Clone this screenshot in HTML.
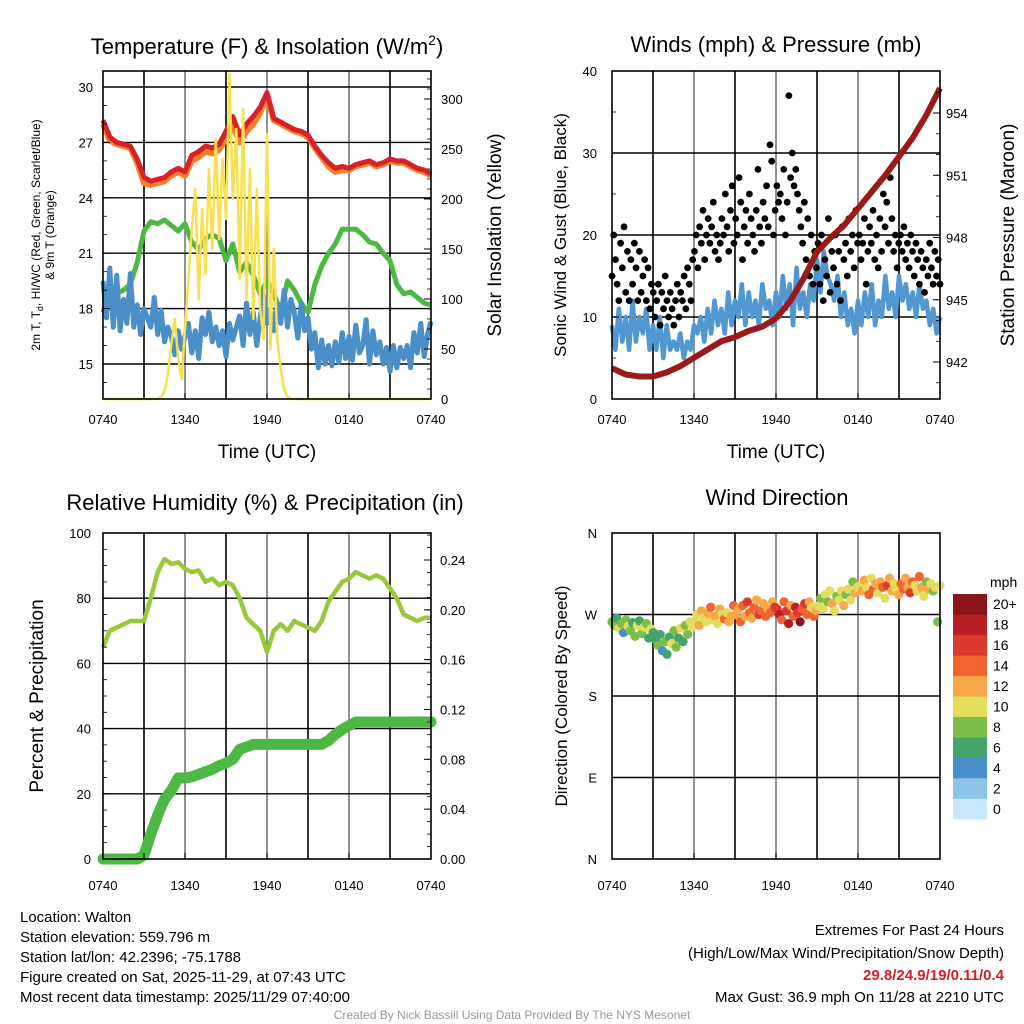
<!DOCTYPE html>
<html><head><meta charset="utf-8"><style>
html,body{margin:0;padding:0;background:#fff;}
svg{display:block;font-family:"Liberation Sans",Arial,sans-serif;}
</style></head><body>
<svg id="s" width="1024" height="1024" viewBox="0 0 1024 1024" xmlns="http://www.w3.org/2000/svg">
<g id="static" font-family="Liberation Sans, sans-serif">
<text x="267" y="54" font-size="22" text-anchor="middle">Temperature (F) &amp; Insolation (W/m<tspan font-size="14" dy="-9">2</tspan><tspan dy="9">)</tspan></text>
<text transform="translate(40,235) rotate(-90)" font-size="12" text-anchor="middle">2m T, T<tspan font-size="9" dy="3">d</tspan><tspan dy="-3">, HI/WC (Red, Green, Scarlet/Blue)</tspan></text>
<text transform="translate(54,235) rotate(-90)" font-size="12" text-anchor="middle">&amp; 9m T (Orange)</text>
<text transform="translate(501,235) rotate(-90)" font-size="19" text-anchor="middle">Solar Insolation (Yellow)</text>
<text x="267" y="458" font-size="19" text-anchor="middle">Time (UTC)</text>
<text x="776" y="52" font-size="22" text-anchor="middle">Winds (mph) &amp; Pressure (mb)</text>
<text transform="translate(566,235) rotate(-90)" font-size="17" text-anchor="middle">Sonic Wind &amp; Gust (Blue, Black)</text>
<text transform="translate(1014,235) rotate(-90)" font-size="19" text-anchor="middle">Station Pressure (Maroon)</text>
<text x="776" y="458" font-size="19" text-anchor="middle">Time (UTC)</text>
<text x="265" y="510" font-size="22" text-anchor="middle">Relative Humidity (%) &amp; Precipitation (in)</text>
<text transform="translate(43,696) rotate(-90)" font-size="19" text-anchor="middle">Percent &amp; Precipitation</text>
<text x="777" y="505" font-size="22" text-anchor="middle">Wind Direction</text>
<text transform="translate(567,696) rotate(-90)" font-size="17" text-anchor="middle">Direction (Colored By Speed)</text>
<text x="990" y="587" font-size="14">mph</text>
<g font-size="15">
<text x="20" y="922">Location: Walton</text>
<text x="20" y="942">Station elevation: 559.796 m</text>
<text x="20" y="962">Station lat/lon: 42.2396; -75.1788</text>
<text x="20" y="982">Figure created on Sat, 2025-11-29, at 07:43 UTC</text>
<text x="20" y="1002">Most recent data timestamp: 2025/11/29 07:40:00</text>
</g>
<g font-size="15" text-anchor="end">
<text x="1004" y="935">Extremes For Past 24 Hours</text>
<text x="1004" y="958">(High/Low/Max Wind/Precipitation/Snow Depth)</text>
<text x="1004" y="980" fill="#d0202a" font-weight="bold">29.8/24.9/19/0.11/0.4</text>
<text x="1004" y="1002">Max Gust: 36.9 mph On 11/28 at 2210 UTC</text>
</g>
<text x="512" y="1019" font-size="12" fill="#999" text-anchor="middle">Created By Nick Bassill Using Data Provided By The NYS Mesonet</text>
</g>
<g id="dyn"></g>
</svg>
<script>
// ---- Panel 1 data (half-hourly unless noted) ----
const tempRed=[28.2,27.3,27.0,26.9,26.8,26.1,25.1,24.9,25.0,25.1,25.4,25.6,25.4,26.3,26.5,26.8,26.7,26.9,27.6,28.4,27.4,28.0,28.4,28.9,29.7,28.3,28.1,27.9,27.7,27.6,27.4,26.8,26.3,25.9,25.6,25.7,25.6,25.8,25.9,26.0,25.8,25.9,26.1,26.0,26.0,25.8,25.6,25.5,25.3];
const tempOrange=[28.0,27.1,26.9,26.8,26.7,25.9,24.8,24.7,24.8,24.9,25.2,25.4,25.2,26.0,26.2,26.5,26.4,26.6,27.2,27.9,27.0,27.6,28.0,28.6,29.5,28.2,28.0,27.8,27.6,27.5,27.3,26.7,26.2,25.7,25.4,25.5,25.5,25.7,25.8,25.9,25.7,25.8,26.0,25.9,25.9,25.7,25.5,25.4,25.2];
const dewGreen=[17.8,19.0,18.8,19.0,19.3,20.5,22.2,22.7,22.6,22.8,22.5,22.2,22.6,21.6,21.2,21.8,22.0,21.8,20.6,21.5,20.0,20.5,19.8,18.8,19.5,18.8,17.8,19.5,19.0,18.3,17.8,19.3,20.3,21.0,21.5,22.3,22.3,22.3,22.0,21.6,21.5,21.0,20.6,19.3,18.8,18.9,18.6,18.3,18.2];
const hiBlue=[19.5,17.5,20.2,17.0,19.8,16.8,18.5,17.2,19.9,17.0,18.2,16.6,18.0,17.5,17.0,18.6,16.6,17.9,16.2,17.0,16.5,15.5,16.8,15.8,16.5,17.2,15.6,16.8,15.3,17.5,16.6,17.8,16.2,17.0,16.0,16.8,15.4,17.2,16.3,17.0,17.6,16.0,18.3,16.6,17.8,16.0,17.5,18.7,17.2,18.0,16.8,18.3,17.2,19.0,17.0,18.5,17.8,16.4,18.3,16.8,17.5,15.8,16.7,14.8,16.3,15.0,16.0,14.9,16.2,15.1,16.7,15.3,16.5,15.2,17.1,15.6,16.0,17.4,15.0,16.8,15.5,16.2,15.0,15.9,14.6,16.0,14.8,15.9,15.3,16.0,14.8,16.7,15.6,17.2,15.4,16.6,17.3];
const insolation=[0,0,0,0,0,0,0,0,0,0,0,0,0,0,0,0,0,2,8,25,55,80,40,20,70,120,170,210,100,190,125,230,150,260,160,240,180,325,200,270,120,290,100,230,80,210,90,60,265,50,150,60,30,10,2,0,0,0,0,0,0,0,0,0,0,0,0,0,0,0,0,0,0,0,0,0,0,0,0,0,0,0,0,0,0,0,0,0,0,0,0,0,0,0,0,0,0];
const timeLabels=["0740","1340","1940","0140","0740"];
const tempTicks=[15,18,21,24,27,30];
const insTicks=[0,50,100,150,200,250,300];
// ---- Panel 2 data ----
const windBlue=[9,6,11,7,10,6,12,7,10,8,11,6,9,6,10,5,9,6,7,6,8,5,7,6,9,8,10,7,11,8,12,9,11,8,13,9,12,10,14,9,13,10,12,9,14,11,12,9,13,10,15,11,14,9,16,11,13,10,14,12,17,13,18,15,14,12,15,10,13,9,11,8,12,9,13,10,14,9,12,10,15,11,13,10,15,12,14,11,13,10,14,11,12,9,11,8,10];
const gustBlack=[15,20,17,14,12,19,16,21,13,18,12,17,14,19,16,12,18,13,15,17,12,16,11,14,13,10,12,14,9,13,11,15,12,10,13,11,9,12,14,10,13,12,15,11,16,14,12,17,18,20,16,21,19,23,17,20,22,19,21,24,18,20,17,19,22,20,25,21,18,23,26,19,22,20,27,24,17,21,23,19,25,22,20,18,23,28,21,19,24,22,26,21,31,29,20,23,26,24,25,22,28,20,24,37,27,30,26,28,25,23,21,19,24,17,22,15,20,14,18,16,19,14,20,12,17,15,22,13,18,16,20,14,18,12,21,17,19,15,22,18,20,16,23,19,20,17,19,22,14,18,21,19,23,17,20,16,22,18,25,21,24,19,27,22,18,20,16,19,20,18,21,17,19,16,20,18,15,19,17,14,18,16,13,17,15,19,16,14,18,15,17,14];
const pressure=[941.7,941.4,941.3,941.3,941.5,941.8,942.2,942.6,943.0,943.2,943.5,943.7,944.1,944.9,946.0,947.3,948.0,948.6,949.4,950.2,951.0,951.9,952.8,953.9,955.2];
const windTicks=[0,10,20,30,40];
const presTicks=[942,945,948,951,954];
// ---- Panel 3 data ----
const rh=[65,70,71,72,73,73,73,80,88,92,90.5,91,89,88,88.5,85,86,84,85,84,80,74,72,70,63.5,70,72,70,73,72,71,70,73,79,82,85,86,88,87,86,87,86,83,80,75,74,73,74,74];
const precip=[0,0,0,0,0,0,0.003,.02,.035,.048,.055,.065,.065,.066,.068,.07,.072,.075,.077,.08,.088,.09,.092,.092,.092,.092,.092,.092,.092,.092,.092,.092,.092,.095,.1,.104,.107,.11,.11,.11,.11,.11,.11,.11,.11,.11,.11,.11,.11];
const rhTicks=[0,20,40,60,80,100];
const precipTicks=[0,0.04,0.08,0.12,0.16,0.20,0.24];
// ---- Panel 4 data ----
const windDir=[262,258,266,255,260,250,264,257,252,261,246,258,263,249,256,260,244,254,250,242,236,248,230,240,226,245,238,252,234,244,255,240,258,248,262,256,262,270,258,274,266,262,271,278,264,268,260,276,270,265,272,262,268,280,270,276,262,280,268,284,272,266,278,286,270,274,282,268,276,272,284,278,276,270,264,284,274,260,280,268,278,272,262,276,282,270,284,278,268,274,280,288,276,292,284,296,282,274,290,286,296,280,292,298,286,306,294,300,302,296,308,300,292,310,298,304,294,306,300,288,302,310,296,304,298,292,304,298,310,300,294,306,302,296,312,300,290,306,298,304,296,300,262,302];
const windSpd=[7,8,6,9,7,4,7,10,8,5,7,9,6,8,10,7,6,9,6,5,7,6,4,7,6,5,9,8,7,6,9,6,7,8,10,9,10,9,11,12,10,9,11,13,10,12,9,11,10,13,10,11,12,14,12,11,14,13,12,15,13,11,14,12,15,13,12,14,11,13,12,16,15,17,14,13,16,18,12,14,17,15,19,13,16,14,12,10,13,11,9,8,10,9,8,10,11,9,8,10,9,12,8,10,9,8,11,10,10,11,12,9,13,10,14,11,9,12,13,10,15,11,12,10,9,12,13,14,11,12,15,13,10,9,14,12,10,8,11,9,8,10,7,9];
const dirLabels=["N","E","S","W","N"];
const cbLabels=["0","2","4","6","8","10","12","14","16","18","20+"];
const cbColors=["#c8e8f8","#8cc4e8","#4a90c8","#44a46c","#7cbc48","#e4dc5c","#f8a848","#f06430","#dc3a2e","#b81c24","#8c1418"];

const NS="http://www.w3.org/2000/svg";
const dyn=document.getElementById('dyn');
function mk(tag,attrs,parent){const e=document.createElementNS(NS,tag);for(const k in attrs)e.setAttribute(k,attrs[k]);(parent||dyn).appendChild(e);return e;}
function lin(d0,d1,r0,r1){return v=>r0+(v-d0)*(r1-r0)/(d1-d0);}
function path(arr,xs,ys){return arr.map((v,i)=>(i?'L':'M')+xs(i*24/(arr.length-1)).toFixed(1)+','+ys(v).toFixed(1)).join('');}

function frame(L,T,W,H,name){
  const g=mk('g',{});
  
  
  for(let k=1;k<8;k++){mk('line',{x1:L+k*W/8,x2:L+k*W/8,y1:T,y2:T+H,stroke:(k%2?'#000':'#777'),'stroke-width':1.6},g);}
  return g;
}
function border(L,T,W,H,name){
  const r=mk('rect',{x:L,y:T,width:W,height:H,fill:'none',stroke:'#000','stroke-width':1.6});
  
  
}
function xTicks(L,T,W,H,ly,name){
  const g=mk('g',{'font-size':13,'text-anchor':'middle'});
  
  
  timeLabels.forEach((t,i)=>{const x=L+i*W/4;const e=mk('text',{x:x,y:ly},g);e.textContent=t;});
  for(let k=0;k<=8;k++){mk('line',{x1:L+k*W/8,x2:L+k*W/8,y1:T+H,y2:T+H-6,stroke:'#000'},g);}
}
function hGrid(vals,ys,L,W,g){vals.forEach(v=>mk('line',{x1:L,x2:L+W,y1:ys(v),y2:ys(v),stroke:'#000','stroke-width':1.4},g));}
function yLabels(vals,ys,x,anchor,fmt,name,tickX,dir){
  const g=mk('g',{'font-size':13,'text-anchor':anchor});
  
  
  vals.forEach(v=>{const e=mk('text',{x:x,y:ys(v)+5},g);e.textContent=fmt(v);mk('line',{x1:tickX,x2:tickX+dir*7,y1:ys(v),y2:ys(v),stroke:'#000'},g);});
}
function minor(d0,d1,step,ys,tickX,dir){for(let v=d0;v<=d1+1e-9;v+=step){mk('line',{x1:tickX,x2:tickX+dir*4,y1:ys(v),y2:ys(v),stroke:'#000','stroke-width':0.8});}}

// ===== Panel 1 =====
{const L=103,T=71,W=328,H=328;
 const xs=lin(0,24,L,L+W), yT=lin(15,30,364,87), yI=lin(0,300,399,99);
 const g=frame(L,T,W,H,'temp');hGrid(tempTicks,yT,L,W,g);
 let p;
 p=mk('path',{d:path(tempOrange,xs,yT),fill:'none',stroke:'#f37f2a','stroke-width':6,'stroke-linejoin':'round'});
 
 p=mk('path',{d:path(tempRed,xs,yT),fill:'none',stroke:'#d7202a','stroke-width':5,'stroke-linejoin':'round'});
 
 p=mk('path',{d:path(dewGreen,xs,yT),fill:'none',stroke:'#4db844','stroke-width':5,'stroke-linejoin':'round'});
 
 p=mk('path',{d:path(hiBlue,xs,yT),fill:'none',stroke:'#4a8fc8','stroke-width':5,'stroke-linejoin':'round'});
 
 p=mk('path',{d:path(insolation,xs,yI),fill:'none',stroke:'#f9e04f','stroke-width':2.5,'stroke-linejoin':'round'});
 
 border(L,T,W,H,'temp');
 yLabels(tempTicks,yT,93,'end',v=>v,'temp-y-axis',L,1);
 minor(14,30.5,1,yT,L,1);
 yLabels(insTicks,yI,441,'start',v=>v,'insolation-y-axis',L+W,-1);
 minor(0,320,10,yI,L+W,-1);
 xTicks(L,T,W,H,424,'temp');}

// ===== Panel 2 =====
{const L=612,T=71,W=328,H=328;
 const xs=lin(0,24,L,L+W), yW=lin(0,40,399,71), yP=lin(942,954,362,113);
 const g=frame(L,T,W,H,'wind');hGrid([10,20,30],yW,L,W,g);
 let p=mk('path',{d:path(windBlue,xs,yW),fill:'none',stroke:'#5197d2','stroke-width':4.5,'stroke-linejoin':'round'});
 
 const gg=mk('g',{fill:'#000'});
 
 gustBlack.forEach((v,i)=>{mk('circle',{cx:xs(i*24/(gustBlack.length-1)),cy:yW(v),r:3.4},gg);});
 p=mk('path',{d:path(pressure,xs,yP),fill:'none',stroke:'#9a1a1a','stroke-width':6,'stroke-linejoin':'round'});
 
 border(L,T,W,H,'wind');
 yLabels(windTicks,yW,597,'end',v=>v,'wind-y-axis',L,1);
 minor(0,40,5,yW,L,1);
 yLabels(presTicks,yP,946,'start',v=>v,'pressure-y-axis',L+W,-1);
 minor(941,955,1,yP,L+W,-1);
 xTicks(L,T,W,H,424,'wind');}

// ===== Panel 3 =====
{const L=103,T=533,W=328,H=326;
 const xs=lin(0,24,L,L+W), yR=lin(0,100,859,533), yPr=lin(0,0.24,859,560);
 const g=frame(L,T,W,H,'rh');hGrid([20,40,60,80],yR,L,W,g);
 let p=mk('path',{d:path(rh,xs,yR),fill:'none',stroke:'#98c93c','stroke-width':4.5,'stroke-linejoin':'round'});
 
 p=mk('path',{d:path(precip,xs,yPr),fill:'none',stroke:'#4db844','stroke-width':11,'stroke-linejoin':'round','stroke-linecap':'round'});
 
 border(L,T,W,H,'rh');
 yLabels(rhTicks,yR,91,'end',v=>v,'rh-y-axis',L,1);
 minor(0,100,5,yR,L,1);
 yLabels(precipTicks,yPr,440,'start',v=>v.toFixed(2),'precip-y-axis',L+W,-1);
 minor(0,0.26,0.01,yPr,L+W,-1);
 xTicks(L,T,W,H,890,'rh');}

// ===== Panel 4 =====
{const L=612,T=533,W=328,H=326;
 const xs=lin(0,24,L,L+W), yD=lin(0,360,859,533);
 const g=frame(L,T,W,H,'dir');hGrid([90,180,270],yD,L,W,g);
 const gg=mk('g',{});
 
 windDir.forEach((d,i)=>{const s=windSpd[i];const b=Math.min(10,Math.floor((s+1)/2));
   mk('circle',{cx:xs(i*24/(windDir.length-1)),cy:yD(d),r:4.6,fill:cbColors[b]},gg);});
 border(L,T,W,H,'dir');
 const ga=mk('g',{'font-size':13,'text-anchor':'end'});
 
 dirLabels.forEach((t,i)=>{const e=mk('text',{x:597,y:yD(i*90)+5},ga);e.textContent=t;});
 xTicks(L,T,W,H,890,'dir');
 const cb=mk('g',{'font-size':14});
 
 const bh=225/11;
 cbLabels.forEach((t,i)=>{const y=819-(i+1)*bh;
   mk('rect',{x:953,y:y,width:34,height:bh+0.3,fill:cbColors[i]},cb);
   const e=mk('text',{x:993,y:y+bh/2+5},cb);e.textContent=t;});}
</script>
</body></html>
